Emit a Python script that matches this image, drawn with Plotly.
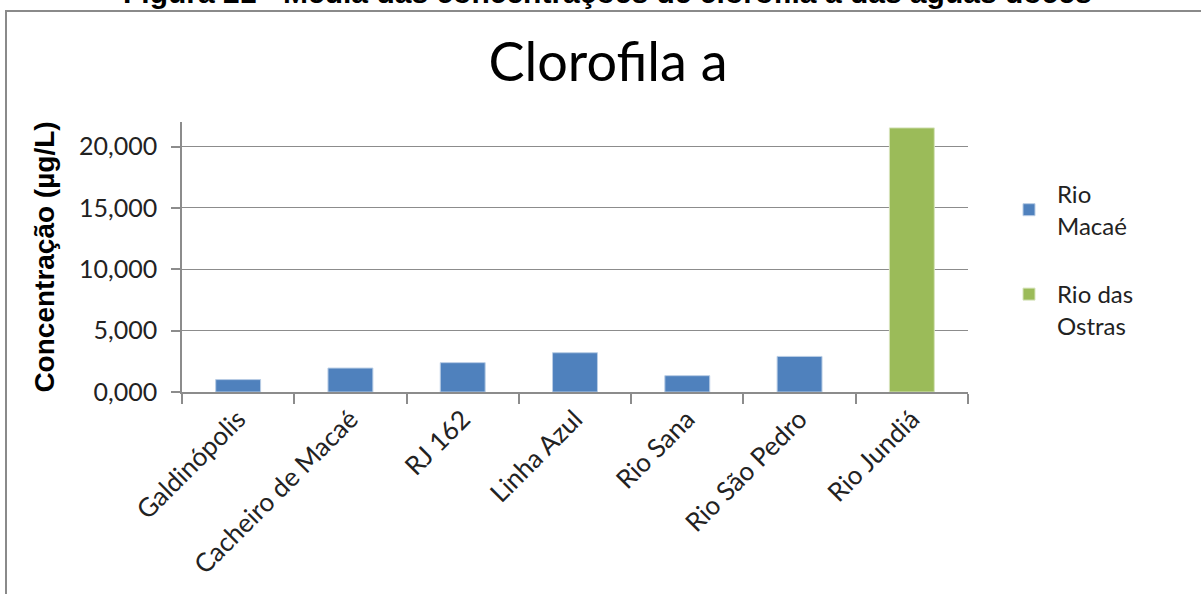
import plotly.graph_objects as go

# Sampling sites and mean chlorophyll-a concentration (µg/L)
sites = ["Galdinópolis", "Cacheiro de Macaé", "RJ 162", "Linha Azul",
         "Rio Sana", "Rio São Pedro", "Rio Jundiá"]
rio_macae = [1.01, 1.95, 2.39, 3.20, 1.33, 2.90, None]
rio_das_ostras = [None, None, None, None, None, None, 21.52]
y_ticks = [0, 5, 10, 15, 20]

BLUE = "#4F81BD"
GREEN = "#9BBB59"
GRID = "#8C8C8C"
LABEL_FONT = "Lato"

fig = go.Figure()
fig.add_trace(go.Bar(
    x=sites, y=rio_macae, name="Rio<br>Macaé", legend="legend",
    marker=dict(color=BLUE, line=dict(color="#B9CDE5", width=1)),
))
fig.add_trace(go.Bar(
    x=sites, y=rio_das_ostras, name="Rio das<br>Ostras", legend="legend2",
    marker=dict(color=GREEN, line=dict(color="#D7E4BD", width=1)),
))

W, H = 1201, 594
L, R, T, B = 182, 233, 122, 202
pw, ph = W - L - R, H - T - B


def px_x(px):
    return (px - L) / pw


def px_y(py):
    return (H - B - py) / ph


# outer chart frame
fig.add_shape(type="rect", xref="paper", yref="paper",
              x0=px_x(6), x1=px_x(W + 10), y0=px_y(H + 10), y1=px_y(11),
              line=dict(color="#8A8A8A", width=2), fillcolor="rgba(0,0,0,0)",
              layer="below")

# document caption above the frame
fig.add_annotation(text="<b>Figura 21 - Média das concentrações de clorofila a das águas doces</b>",
                   xref="paper", yref="paper", x=px_x(607), y=px_y(-8),
                   xanchor="center", yanchor="middle", showarrow=False,
                   font=dict(family="Liberation Sans", size=30, color="#000"))

legend_common = dict(xanchor="left", yanchor="top", itemwidth=46,
                     font=dict(family=LABEL_FONT, size=24, color="#222"),
                     bgcolor="rgba(0,0,0,0)")

fig.update_layout(
    width=W, height=H,
    margin=dict(l=L, r=R, t=T, b=B, autoexpand=False),
    paper_bgcolor="white", plot_bgcolor="white",
    barmode="overlay", bargap=0.6,
    separators=",.",
    title=dict(text="Clorofila a", x=(608 / W), xanchor="center",
               y=1 - 62 / H, yanchor="middle",
               font=dict(family=LABEL_FONT, size=54, color="#000")),
    legend=dict(x=px_x(1001), y=px_y(172), valign="middle", **legend_common),
    legend2=dict(x=px_x(1001), y=px_y(272), valign="top", **legend_common),
    showlegend=True,
)

fig.update_xaxes(
    type="category", tickson="boundaries", ticks="outside", ticklen=10,
    tickcolor=GRID, tickwidth=1.5, showline=True, linecolor=GRID, linewidth=1.5,
    tickangle=-45, tickfont=dict(family=LABEL_FONT, size=26, color="#222"),
    showgrid=False,
)
fig.update_yaxes(
    range=[0, 22], tickvals=y_ticks, tickformat=".3f",
    ticks="outside", ticklen=9, tickcolor=GRID, tickwidth=1.5,
    showline=True, linecolor=GRID, linewidth=1.5,
    showgrid=True, gridcolor=GRID, gridwidth=1.2, zeroline=False,
    tickfont=dict(family=LABEL_FONT, size=25, color="#222"),
    ticklabelstandoff=9,
    title=dict(text="<b>Concentração (µg/L)</b>", standoff=16,
               font=dict(family="Liberation Sans", size=28, color="#000")),
)

fig.write_html("out.html")
